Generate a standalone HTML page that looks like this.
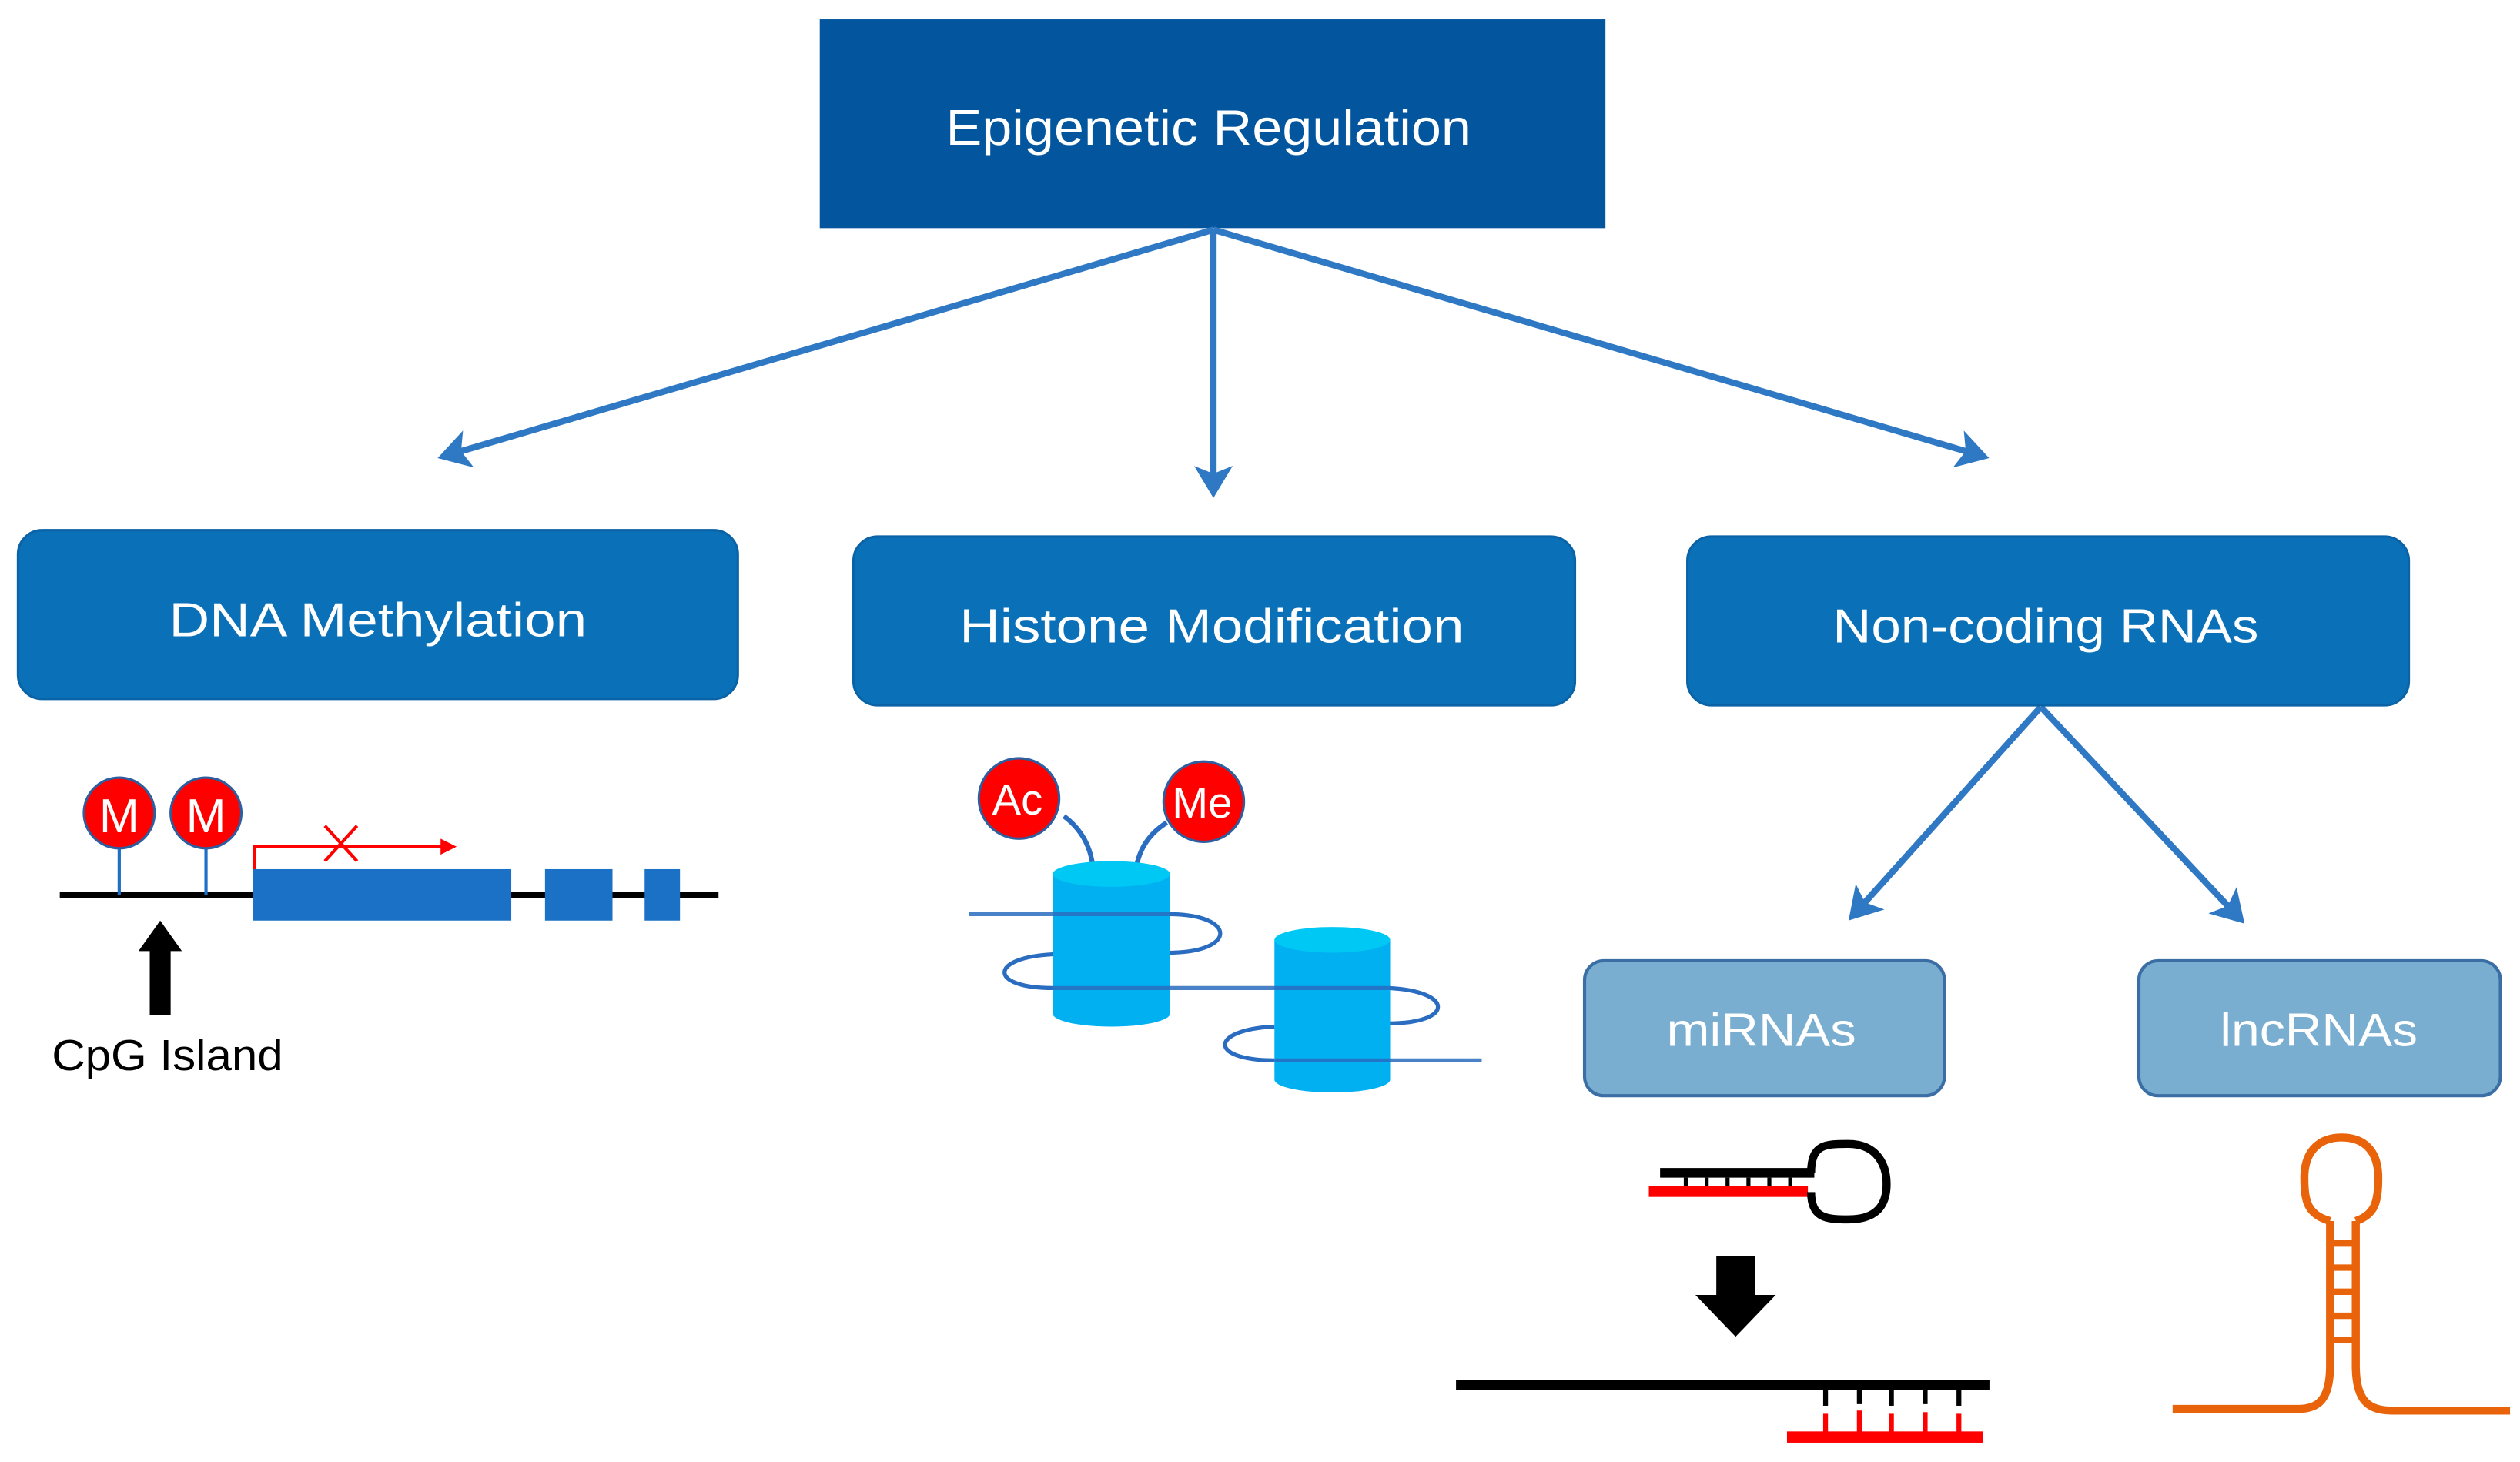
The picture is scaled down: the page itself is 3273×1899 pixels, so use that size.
<!DOCTYPE html>
<html><head><meta charset="utf-8"><style>html,body{margin:0;padding:0;background:#fff}svg{display:block}</style></head>
<body>
<svg width="3273" height="1899" viewBox="0 0 1568 910" xmlns="http://www.w3.org/2000/svg" font-family="Liberation Sans, sans-serif">
<defs>
<marker id="ah" markerWidth="6" markerHeight="6" refX="4" refY="3" orient="auto" markerUnits="strokeWidth">
<path d="M0,0 L5,3 L0,6 L1.2,3 z" fill="#2f78c4"/></marker>
</defs>
<rect width="1568" height="910" fill="#fff"/>
<!-- top box -->
<rect x="510" y="12" width="489" height="130" fill="#03559e"/>
<text x="752" y="90" font-size="31" fill="#fff" text-anchor="middle" textLength="327" lengthAdjust="spacingAndGlyphs">Epigenetic Regulation</text>
<!-- arrows -->
<g stroke="#2f78c4" stroke-width="4" fill="none">
<line x1="755" y1="143" x2="276" y2="284" marker-end="url(#ah)"/>
<line x1="755" y1="143" x2="755" y2="306" marker-end="url(#ah)"/>
<line x1="755" y1="143" x2="1234" y2="284" marker-end="url(#ah)"/>
<line x1="1270" y1="440" x2="1153" y2="570" marker-end="url(#ah)"/>
<line x1="1270" y1="440" x2="1394" y2="572" marker-end="url(#ah)"/>
</g>
<!-- main boxes -->
<rect x="11" y="330" width="448" height="105" rx="15" fill="#0a70b8" stroke="#0a63a6" stroke-width="1.5"/>
<text x="235" y="396" font-size="30" fill="#fff" text-anchor="middle" textLength="260" lengthAdjust="spacingAndGlyphs">DNA Methylation</text>
<rect x="531" y="334" width="449" height="105" rx="15" fill="#0a70b8" stroke="#0a63a6" stroke-width="1.5"/>
<text x="754" y="400" font-size="30" fill="#fff" text-anchor="middle" textLength="314" lengthAdjust="spacingAndGlyphs">Histone Modification</text>
<rect x="1050" y="334" width="449" height="105" rx="15" fill="#0a70b8" stroke="#0a63a6" stroke-width="1.5"/>
<text x="1273" y="400" font-size="30" fill="#fff" text-anchor="middle" textLength="265" lengthAdjust="spacingAndGlyphs">Non-coding RNAs</text>
<!-- sub boxes -->
<rect x="986" y="598" width="224" height="84" rx="12" fill="#7aaed0" stroke="#3a6ea5" stroke-width="2"/>
<text x="1096" y="651" font-size="29" fill="#fff" text-anchor="middle" textLength="118" lengthAdjust="spacingAndGlyphs">miRNAs</text>
<rect x="1331" y="598" width="225" height="84" rx="12" fill="#7aaed0" stroke="#3a6ea5" stroke-width="2"/>
<text x="1443" y="651" font-size="29" fill="#fff" text-anchor="middle" textLength="123" lengthAdjust="spacingAndGlyphs">lncRNAs</text>

<!-- DNA methylation graphic -->
<line x1="37" y1="557" x2="447" y2="557" stroke="#000" stroke-width="4"/>
<line x1="74" y1="525" x2="74" y2="557" stroke="#1f6fc8" stroke-width="2"/>
<line x1="128" y1="525" x2="128" y2="557" stroke="#1f6fc8" stroke-width="2"/>
<ellipse cx="74" cy="506" rx="22" ry="22" fill="#f00" stroke="#2c5ea0" stroke-width="1.5"/>
<ellipse cx="128" cy="506" rx="22" ry="22" fill="#f00" stroke="#2c5ea0" stroke-width="1.5"/>
<text x="74" y="518" font-size="30" fill="#fff" text-anchor="middle">M</text>
<text x="128" y="518" font-size="30" fill="#fff" text-anchor="middle">M</text>
<rect x="157" y="541" width="161" height="32" fill="#1a71c6"/>
<rect x="339" y="541" width="42" height="32" fill="#1a71c6"/>
<rect x="401" y="541" width="22" height="32" fill="#1a71c6"/>
<path d="M158,541 V527 H276" stroke="#f00" stroke-width="2" fill="none"/>
<path d="M274,522 L284,527 L274,532 z" fill="#f00"/>
<path d="M202,514 L222,536 M222,514 L202,536" stroke="#f00" stroke-width="2"/>
<rect x="93" y="590" width="13" height="42" fill="#000"/>
<path d="M86,592 L99.5,573 L113,592 z" fill="#000"/>
<text x="32" y="666" font-size="27" fill="#000" textLength="144" lengthAdjust="spacingAndGlyphs">CpG Island</text>

<!-- Histone graphic -->
<path d="M662,508 Q678,520 680,540" stroke="#2a6cc0" stroke-width="3" fill="none"/>
<path d="M726,512 Q710,522 707,540" stroke="#2a6cc0" stroke-width="3" fill="none"/>
<ellipse cx="634" cy="497" rx="25" ry="25" fill="#f00" stroke="#2c5ea0" stroke-width="1.5"/>
<ellipse cx="749" cy="499" rx="25" ry="25" fill="#f00" stroke="#2c5ea0" stroke-width="1.5"/>
<text x="633" y="507" font-size="27" fill="#fff" text-anchor="middle">Ac</text>
<text x="748" y="509" font-size="27" fill="#fff" text-anchor="middle">Me</text>
<!-- DNA back parts -->
<g stroke="#2a6cc0" stroke-width="2.5" fill="none">
<path d="M727,569 C770,569 770,593 727,593"/>
<path d="M655,594 C615,596 615,615 655,615"/>
<path d="M864,615 C905,617 905,637 864,637"/>
<path d="M793,639 C752,641 752,660 793,660"/>
</g>
<!-- cylinders -->
<path d="M655,544 V631 A36.5,8 0 0 0 728,631 V544 z" fill="#00b0f0"/>
<ellipse cx="691.5" cy="544" rx="36.5" ry="8" fill="#00c8f4"/>
<path d="M793,585 V672 A36,8 0 0 0 865,672 V585 z" fill="#00b0f0"/>
<ellipse cx="829" cy="585" rx="36" ry="8" fill="#00c8f4"/>
<g stroke="#2a6cc0" stroke-width="2.5" fill="none" opacity="0.85">
<line x1="603" y1="569" x2="728" y2="569"/>
<line x1="655" y1="615" x2="865" y2="615"/>
<line x1="793" y1="660" x2="922" y2="660"/>
</g>

<!-- miRNA hairpin -->
<rect x="1033" y="727" width="96" height="6" fill="#000"/>
<rect x="1026" y="738" width="99" height="7" fill="#f00"/>
<g stroke="#000" stroke-width="2.5">
<line x1="1049" y1="733" x2="1049" y2="738"/><line x1="1062" y1="733" x2="1062" y2="738"/>
<line x1="1075" y1="733" x2="1075" y2="738"/><line x1="1088" y1="733" x2="1088" y2="738"/>
<line x1="1101" y1="733" x2="1101" y2="738"/><line x1="1114" y1="733" x2="1114" y2="738"/>
</g>
<path d="M1127,730 C1127,712 1136,712 1150,712 C1168,712 1174,725 1174,737 C1174,750 1168,759 1150,759 C1136,759 1127,758 1127,742" stroke="#000" stroke-width="5" fill="none"/>
<rect x="1068" y="782" width="24" height="26" fill="#000"/>
<path d="M1055,806 L1105,806 L1080,832 z" fill="#000"/>
<rect x="906" y="859" width="332" height="6" fill="#000"/>
<rect x="1112" y="891" width="122" height="7" fill="#f00"/>
<g stroke-width="3">
<g stroke="#000"><line x1="1136" y1="864" x2="1136" y2="875"/><line x1="1157" y1="864" x2="1157" y2="874"/><line x1="1177" y1="864" x2="1177" y2="875"/><line x1="1198" y1="864" x2="1198" y2="874"/><line x1="1219" y1="864" x2="1219" y2="875"/></g>
<g stroke="#f00"><line x1="1136" y1="880" x2="1136" y2="892"/><line x1="1157" y1="878" x2="1157" y2="892"/><line x1="1177" y1="880" x2="1177" y2="892"/><line x1="1198" y1="879" x2="1198" y2="892"/><line x1="1219" y1="880" x2="1219" y2="892"/></g>
</g>

<!-- lncRNA -->
<g stroke="#e8630a" stroke-width="5" fill="none">
<path d="M1450,760 C1436,756 1434,748 1434,733 C1434,715 1445,708 1457,708 C1470,708 1480,715 1480,733 C1480,748 1478,756 1466,760"/>
<path d="M1450,760 V850 C1450,872 1442,877 1430,877 H1352"/>
<path d="M1466,760 V850 C1466,872 1474,878 1488,878 H1562"/>
</g>
<g stroke="#e8630a" stroke-width="4">
<line x1="1450" y1="774" x2="1466" y2="774"/><line x1="1450" y1="789" x2="1466" y2="789"/>
<line x1="1450" y1="804" x2="1466" y2="804"/><line x1="1450" y1="819" x2="1466" y2="819"/>
<line x1="1450" y1="834" x2="1466" y2="834"/>
</g>
</svg>
</body></html>
